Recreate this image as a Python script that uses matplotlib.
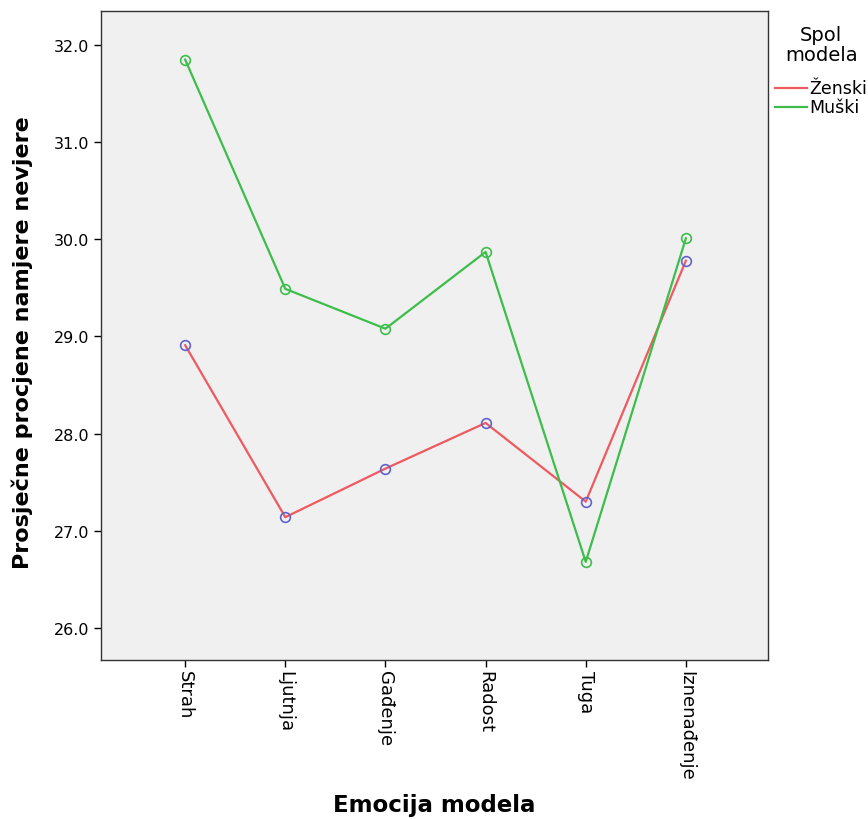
import matplotlib
matplotlib.use('Agg')
import matplotlib.pyplot as plt
from matplotlib.lines import Line2D

# Data
emotions = ['Strah', 'Ljutnja', 'Gađenje', 'Radost', 'Tuga', 'Iznenađenje']
zenski = [28.91, 27.14, 27.64, 28.11, 27.30, 29.78]
muski = [31.85, 29.49, 29.08, 29.87, 26.68, 30.01]
seriesNames = ['Ženski', 'Muški']
yTicks = [26, 27, 28, 29, 30, 31, 32]

redCol = '#EE5A60'
greenCol = '#3DBE4A'
blueMark = '#6262CC'

fig = plt.figure(figsize=(8.68, 8.2), dpi=100)
ax = fig.add_axes([0.1164, 0.1939, 0.7684, 0.7915])
ax.set_facecolor('#F0F0F0')

xs = list(range(len(emotions)))
ax.plot(xs, zenski, '-', color=redCol, lw=1.6, zorder=2)
ax.plot(xs, zenski, 'o', ms=7, mfc='none', mec=blueMark, mew=1.2, zorder=3)
ax.plot(xs, muski, '-', color=greenCol, lw=1.6, zorder=2)
ax.plot(xs, muski, 'o', ms=7, mfc='none', mec=greenCol, mew=1.2, zorder=3)

ax.set_xlim(-0.84, 5.82)
ax.set_ylim(25.67, 32.35)
ax.set_yticks(yTicks)
ax.set_yticklabels(['%.1f' % v for v in yTicks], fontsize=11.5)
ax.set_xticks(xs)
ax.set_xticklabels(emotions, rotation=-90, ha='center', va='top', fontsize=13)
ax.tick_params(direction='out', length=5, width=1, colors='black')
ax.tick_params(axis='x', pad=2)
for s in ax.spines.values():
    s.set_color('#333333')
    s.set_linewidth(1.0)

ax.set_xlabel('Emocija modela', fontsize=16.5, fontweight='bold', va='center')
ax.xaxis.set_label_coords(0.5, -(805 - 661) / 649)
ax.set_ylabel('Prosječne procjene namjere nevjere', fontsize=16, fontweight='bold', va='center')
ax.yaxis.set_label_coords(-(101 - 22) / 667, 0.49)

# Legend drawn by hand outside the axes on the right
fig.text(0.946, 1 - 26 / 820, 'Spol\nmodela', ha='center', va='top', fontsize=14,
         multialignment='center', linespacing=1.05)
legY = [1 - 89 / 820, 1 - 108 / 820]
for name, col, yy in zip(seriesNames, [redCol, greenCol], legY):
    fig.add_artist(Line2D([775 / 868, 807 / 868], [yy, yy], color=col, lw=1.6))
    fig.text(809 / 868, yy, name, ha='left', va='center', fontsize=12.5)

fig.savefig('out.png', dpi=100)
